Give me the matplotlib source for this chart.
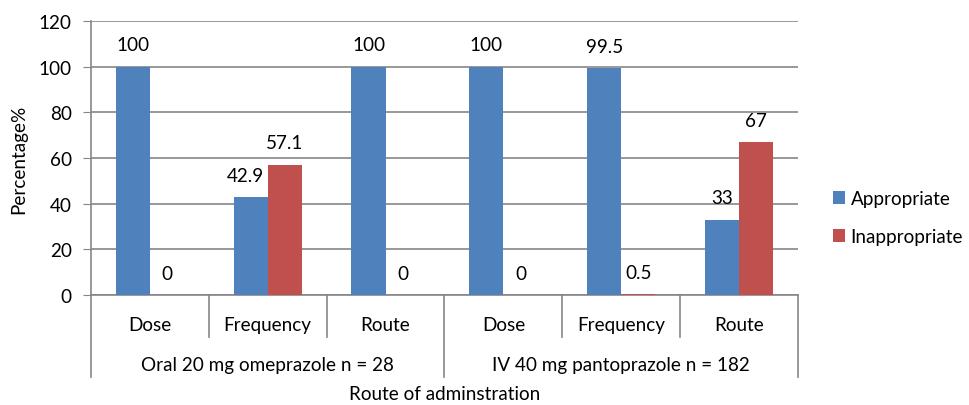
import numpy as np
import matplotlib
matplotlib.use("Agg")
import matplotlib.pyplot as plt
import matplotlib.transforms as mtransforms

# data
subcats = ["Dose", "Frequency", "Route", "Dose", "Frequency", "Route"]
groups = ["Oral 20 mg omeprazole n = 28", "IV 40 mg pantoprazole n = 182"]
appropriate = [100, 42.9, 100, 100, 99.5, 33]
inappropriate = [0, 57.1, 0, 0, 0.5, 67]
appr_labels = ["100", "42.9", "100", "100", "99.5", "33"]
inappr_labels = ["0", "57.1", "0", "0", "0.5", "67"]

plt.rcParams['font.family'] = ['Lato', 'DejaVu Sans']
fs = 13.6
grey = '#868686'

fig = plt.figure(figsize=(9.7, 4.06), dpi=100)
ax = fig.add_axes([91/970, 1-296/406, 707/970, 274/406])

x = np.arange(len(subcats))
w = 0.29
b1 = ax.bar(x - w/2, appropriate, w, color='#4F81BD', label='Appropriate', zorder=3)
b2 = ax.bar(x + w/2, inappropriate, w, color='#C0504D', label='Inappropriate', zorder=3)

for i in range(len(x)):
    # excel nudges the small blue label left when the pair sits close
    dx = -4 if appr_labels[i] == "42.9" else 0
    ax.annotate(appr_labels[i], (x[i] - w/2, appropriate[i]), xytext=(dx, 9.5),
                textcoords='offset points', ha='center', va='bottom', fontsize=fs)
    ax.annotate(inappr_labels[i], (x[i] + w/2, inappropriate[i]), xytext=(0, 9.5),
                textcoords='offset points', ha='center', va='bottom', fontsize=fs)

ax.set_xlim(-0.5, 5.5)
ax.set_ylim(0, 120)
ax.set_yticks(range(0, 121, 20))
ax.tick_params(axis='y', labelsize=fs, length=6, color=grey, pad=8)
ax.set_xticks([])
ax.yaxis.grid(True, color=grey, linewidth=1.2, zorder=0)
ax.set_axisbelow(True)
for s in ['top', 'right']:
    ax.spines[s].set_visible(False)
ax.spines['left'].set_color(grey)
ax.spines['bottom'].set_color(grey)
ax.spines['left'].set_linewidth(1.2)
ax.spines['bottom'].set_linewidth(1.2)
ax.set_ylabel('Percentage%', fontsize=fs, labelpad=8)

# two-level category axis
trans = mtransforms.blended_transform_factory(ax.transData, ax.transAxes)
for k in range(len(subcats) + 1):
    bottom = -0.299 if k % 3 == 0 else -0.153
    ax.plot([k - 0.5, k - 0.5], [0, bottom], color=grey, lw=1.2,
            transform=trans, clip_on=False)
for i, name in enumerate(subcats):
    ax.text(x[i], -0.106, name, transform=trans, ha='center', va='center', fontsize=fs)
for g, name in enumerate(groups):
    ax.text(3*g + 1, -0.255, name, transform=trans, ha='center', va='center', fontsize=fs)
ax.text(0.5, -0.361, 'Route of adminstration', transform=ax.transAxes,
        ha='center', va='center', fontsize=fs)

ax.legend(loc='center left', bbox_to_anchor=(1.049, 0.283), frameon=False,
          fontsize=fs, handlelength=0.65, handleheight=0.65, handletextpad=0.3,
          labelspacing=1.1, borderaxespad=0, borderpad=0)

fig.savefig('out.png', dpi=100)
